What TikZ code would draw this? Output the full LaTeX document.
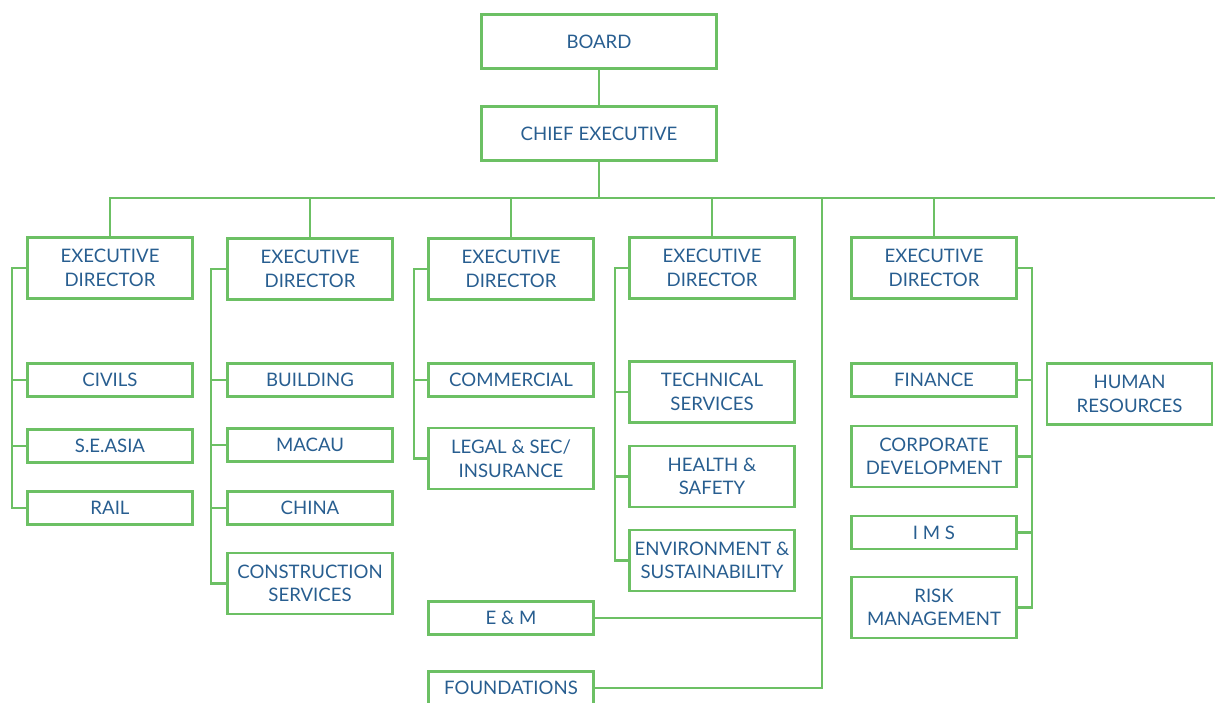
\documentclass[tikz,border=0pt]{standalone}
\usepackage{fontspec}
\setmainfont{Lato}
\usepackage{tikz}
\usetikzlibrary{positioning}

\definecolor{chartgreen}{RGB}{108,192,100}
\definecolor{charttext}{RGB}{40,94,144}

\begin{document}
\begin{tikzpicture}[x=1pt,y=-1pt,on grid,draw=chartgreen,line width=2.8pt,
  unit node/.style={rectangle,draw=chartgreen,text=charttext,inner sep=0pt,
    minimum width=165pt,minimum height=33pt,align=center,
    font=\fontsize{18.6}{23.5}\selectfont},
  tall node/.style={unit node,minimum height=61pt},
  top node/.style={unit node,minimum width=235pt,minimum height=54pt}]

  \useasboundingbox (0,0) rectangle (1215,702);

  \node[top node] (board) at (599,41.5) {BOARD};
  \node[top node] (chief) at (599,133.5) {CHIEF EXECUTIVE};

  \node[tall node] (ed1) at (110,268) {EXECUTIVE\\DIRECTOR};
  \node[tall node] (ed2) at (310,269) {EXECUTIVE\\DIRECTOR};
  \node[tall node] (ed3) at (511,269) {EXECUTIVE\\DIRECTOR};
  \node[tall node] (ed4) at (712,268) {EXECUTIVE\\DIRECTOR};
  \node[tall node] (ed5) at (934,268) {EXECUTIVE\\DIRECTOR};

  % first column
  \node[unit node] (civils) [below=112pt of ed1] {CIVILS};
  \node[unit node] (seasia) [below=66pt of civils] {S.E.ASIA};
  \node[unit node] (rail) [below=62pt of seasia] {RAIL};

  % second column
  \node[unit node] (building) [below=111pt of ed2] {BUILDING};
  \node[unit node] (macau) [below=65pt of building] {MACAU};
  \node[unit node] (china) [below=63pt of macau] {CHINA};
  \node[tall node] (construction) [below=75.5pt of china] {CONSTRUCTION\\SERVICES};

  % third column
  \node[unit node] (commercial) [below=111pt of ed3] {COMMERCIAL};
  \node[tall node] (legal) [below=78.5pt of commercial] {LEGAL \& SEC/\\INSURANCE};
  \node[unit node] (em) [below=159.5pt of legal] {E \& M};
  \node[unit node] (foundations) [below=70pt of em] {FOUNDATIONS};

  % fourth column
  \node[tall node] (technical) [below=124pt of ed4] {TECHNICAL\\SERVICES};
  \node[tall node] (health) [below=84.5pt of technical] {HEALTH \&\\SAFETY};
  \node[tall node] (environment) [below=84pt of health] {ENVIRONMENT \&\\SUSTAINABILITY};

  % fifth column
  \node[unit node] (finance) [below=112pt of ed5] {FINANCE};
  \node[tall node] (corporate) [below=76.5pt of finance] {CORPORATE\\DEVELOPMENT};
  \node[unit node] (ims) [below=76pt of corporate] {I M S};
  \node[tall node] (risk) [below=75pt of ims] {RISK\\MANAGEMENT};

  \node[tall node] (hr) at (1129.5,394) {HUMAN\\RESOURCES};

  % bus and trunk
  \coordinate (busR) at (1215,198);
  \coordinate (trunk) at (822,198);
  \coordinate (sp1) at (12,198);
  \coordinate (sp2) at (211,198);
  \coordinate (sp3) at (414,198);
  \coordinate (sp4) at (615,198);
  \coordinate (sp5) at (1032,198);

  \draw (board) -- (chief);
  \draw (chief) -- (chief |- busR);
  \draw (ed1) |- (busR);
  \foreach \n in {ed2,ed3,ed4,ed5}
    \draw (\n) -- (\n |- busR);
  \draw (trunk) |- (foundations.east);
  \draw (em.east) -- (em.east -| trunk);

  % spines
  \draw (ed1.west) -| (sp1 |- rail.west) -- (rail.west);
  \foreach \n in {civils,seasia}
    \draw (\n.west) -- (\n.west -| sp1);
  \draw (ed2.west) -| (sp2 |- construction.west) -- (construction.west);
  \foreach \n in {building,macau,china}
    \draw (\n.west) -- (\n.west -| sp2);
  \draw (ed3.west) -| (sp3 |- legal.west) -- (legal.west);
  \draw (commercial.west) -- (commercial.west -| sp3);
  \draw (ed4.west) -| (sp4 |- environment.west) -- (environment.west);
  \foreach \n in {technical,health}
    \draw (\n.west) -- (\n.west -| sp4);
  \draw (ed5.east) -| (sp5 |- risk.east) -- (risk.east);
  \foreach \n in {finance,corporate,ims}
    \draw (\n.east) -- (\n.east -| sp5);
\end{tikzpicture}
\end{document}
